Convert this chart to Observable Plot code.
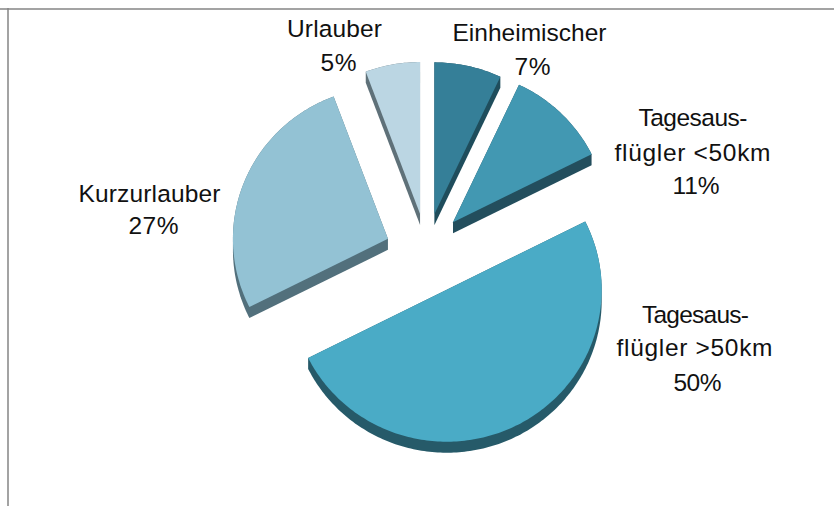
<!DOCTYPE html>
<html>
<head>
<meta charset="utf-8">
<style>
html,body{margin:0;padding:0;background:#fff}
svg{display:block}
</style>
<script src="https://cdn.jsdelivr.net/npm/d3@7"></script>
<script src="https://cdn.jsdelivr.net/npm/@observablehq/plot@0.6"></script>
</head>
<body>
<div id="chart"></div>
<script>
// Data (shares; printed labels are kept as in the picture)
const categories = ["Einheimischer", "Tagesausflügler <50km", "Tagesausflügler >50km", "Kurzurlauber", "Urlauber"];
const shares = [7.0, 10.6, 50.0, 26.7, 5.7];
const labelLines = ["Einheimischer", "7%", "Tagesaus-", "flügler <50km", "11%", "Tagesaus-", "flügler >50km", "50%", "Kurzurlauber", "27%", "Urlauber", "5%"];

// Styles and layout
const topColors = ["#357f98", "#4298b2", "#4aabc6", "#93c2d4", "#bbd6e3"];
const sideColors = ["#1f4d5c", "#234e5d", "#265a69", "#52707c", "#5f7179"];
const pull = [36, 38, 45, 40, 36];
const pullTurnDegrees = [0, 0, 0, -6, 0];
const labelX = [529, 532, 692.5, 692, 695.5, 695, 694, 697, 149, 153, 334, 338];
const labelBaseline = [40, 74, 125, 160, 193, 322, 355, 390, 201, 233, 36, 70];
const labelWidth = [154, 36, 109, 156, 47, 107, 156, 48, 142, 50, 95, 36];
const pie = {cx: 426, cy: 249, rx: 155, ry: 152, depth: 11};

const total = d3.sum(shares);
const cumulative = d3.cumsum(shares);
const TAU = 2 * Math.PI;

const tops = [], sides = [];
shares.forEach((share, i) => {
  const a0 = ((cumulative[i] - share) / total) * TAU;
  const a1 = (cumulative[i] / total) * TAU;
  const mid = (a0 + a1) / 2 + pullTurnDegrees[i] * TAU / 360;
  const ox = pie.cx + pull[i] * Math.sin(mid);
  const oy = pie.cy - pull[i] * Math.cos(mid);
  const pts = [[ox, oy]];
  const steps = Math.max(2, Math.ceil((a1 - a0) / (TAU / 360)));
  for (let s = 0; s <= steps; s++) {
    const a = a0 + (a1 - a0) * s / steps;
    pts.push([ox + pie.rx * Math.sin(a), oy - pie.ry * Math.cos(a)]);
  }
  pts.forEach(([x, y]) => tops.push({slice: categories[i], x, y, color: topColors[i]}));
  const hull = d3.polygonHull(pts.concat(pts.map(([x, y]) => [x, y + pie.depth])));
  hull.forEach(([x, y]) => sides.push({slice: categories[i], x, y, color: sideColors[i]}));
});

const labels = labelLines.map((text, i) => ({text, x: labelX[i], y: labelBaseline[i]}));

const chart = Plot.plot({
  width: 834,
  height: 506,
  margin: 0,
  x: {domain: [0, 834], range: [0, 834], axis: null},
  y: {domain: [0, 506], range: [0, 506], axis: null},
  color: {type: "identity"},
  style: {background: "#fff"},
  marks: [
    Plot.ruleY([8.5], {stroke: "#858585", strokeWidth: 1.5}),
    Plot.ruleX([7.5], {y1: 8, y2: 506, stroke: "#858585", strokeWidth: 1.5}),
    Plot.line(sides, {x: "x", y: "y", z: "slice", fill: "color", stroke: "none", curve: "linear-closed"}),
    Plot.line(tops, {x: "x", y: "y", z: "slice", fill: "color", stroke: "none", curve: "linear-closed"}),
    Plot.text(labels, {
      x: "x", y: "y", text: "text",
      fontSize: 24.5, lineAnchor: "bottom",
      fontFamily: "Liberation Sans", fill: "#111", textAnchor: "middle",
      className: "pie-label"
    })
  ]
});
// Fit each printed line to the width it has in the picture
chart.querySelectorAll("g.pie-label text, .pie-label text").forEach((node, i) => {
  node.setAttribute("textLength", labelWidth[i]);
  node.setAttribute("lengthAdjust", "spacing");
});
document.getElementById("chart").appendChild(chart);
</script>
</body>
</html>
